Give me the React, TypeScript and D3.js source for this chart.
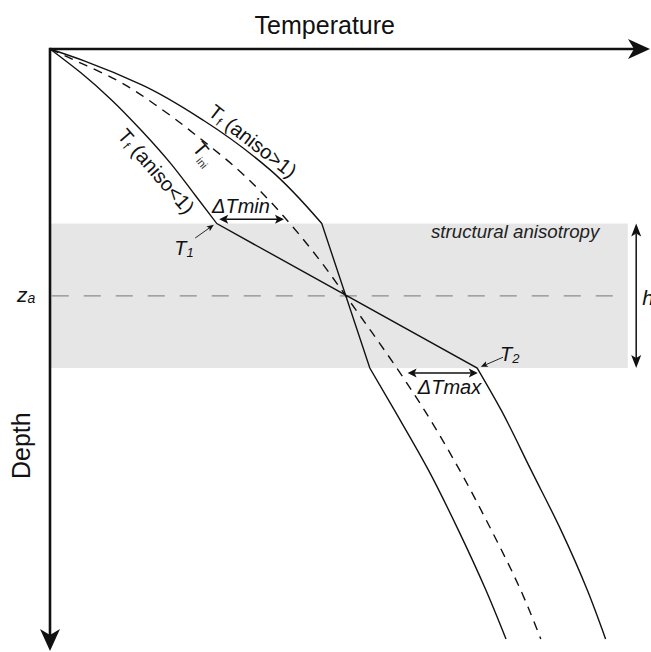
import React from 'react';
import * as d3 from 'd3';

// ---- data (temperature units, depth units) ----
const bandTop = 29;
const bandBottom = 53;
const depthZa = 41;
const bandRight = 96.3;

// initial geotherm T_ini (dashed)
const iniDepth = [0, 2, 5, 10, 15, 20, 25, 29, 35, 41, 47, 53, 60, 70, 80, 90, 98];
const iniTemp = [0, 4.4, 10.8, 18.6, 25.2, 31.3, 36.4, 40.0, 44.9, 49.3, 53.6, 57.8, 62.4, 68.3, 73.6, 78.5, 81.8];

// T_f (aniso > 1)
const hiUpperDepth = [0, 2, 6, 12, 20, 29];
const hiUpperTemp = [0, 5.8, 15.4, 25.8, 36.6, 45.3];
const hiLowerDepth = [53, 60, 70, 80, 90, 98];
const hiLowerTemp = [53.3, 57.4, 63.1, 68.1, 72.7, 76.0];

// T_f (aniso < 1)
const loUpperDepth = [0, 4, 8.5, 13.5, 19, 24.3, 29];
const loUpperTemp = [0, 5.2, 10.3, 15.2, 20.1, 24.2, 27.8];
const loLowerDepth = [53, 60, 70, 80, 90, 98];
const loLowerTemp = [71.2, 75.2, 80.2, 85.2, 89.6, 92.6];

// annotation arrows [t0, d0, t1, d1]
const dTminArrow = [28.2, 28.3, 39.0, 28.3];
const dTmaxArrow = [59.6, 53.8, 71.3, 53.8];
const t1Arrow = [24.2, 31.4, 27.3, 29.2];
const t2Arrow = [75.5, 51.2, 71.8, 52.8];
const hArrowT = 97.7;

const W = 651;
const H = 652;
const x = d3.scaleLinear().domain([0, 100]).range([50, 650]);
const y = d3.scaleLinear().domain([0, 100]).range([49, 651]);

const FONT = "'Liberation Sans', Arial, Helvetica, sans-serif";

const zip = (d: number[], t: number[]) => d.map((v, i) => [t[i], v] as [number, number]);
const lineGen = d3
  .line<[number, number]>()
  .x((p) => x(p[0]))
  .y((p) => y(p[1]))
  .curve(d3.curveMonotoneY);

function head(tx: number, ty: number, dx: number, dy: number, len: number, hw: number, notch: number) {
  const m = Math.hypot(dx, dy);
  dx /= m;
  dy /= m;
  const px = -dy, py = dx;
  const bx = tx - dx * len, by = ty - dy * len;
  const nx = tx - dx * (len - notch), ny = ty - dy * (len - notch);
  return `M${tx},${ty}L${bx + px * hw},${by + py * hw}L${nx},${ny}L${bx - px * hw},${by - py * hw}Z`;
}

function Arrow({ a, both, len, hw, notch, sw }: { a: number[]; both: boolean; len: number; hw: number; notch: number; sw: number }) {
  const x0 = x(a[0]), y0 = y(a[1]), x1 = x(a[2]), y1 = y(a[3]);
  const dx = x1 - x0, dy = y1 - y0;
  const m = Math.hypot(dx, dy);
  const ux = dx / m, uy = dy / m;
  const sx = both ? x0 + ux * (len - notch) : x0;
  const sy = both ? y0 + uy * (len - notch) : y0;
  const ex = x1 - ux * (len - notch), ey = y1 - uy * (len - notch);
  return (
    <g>
      <line x1={sx} y1={sy} x2={ex} y2={ey} stroke="#111" strokeWidth={sw} />
      <path d={head(x1, y1, dx, dy, len, hw, notch)} fill="#111" />
      {both && <path d={head(x0, y0, -dx, -dy, len, hw, notch)} fill="#111" />}
    </g>
  );
}

export default function App() {
  const iniPath = lineGen(zip(iniDepth, iniTemp)) || '';
  const hiPath =
    (lineGen(zip(hiUpperDepth, hiUpperTemp)) || '') +
    (lineGen(zip(hiLowerDepth, hiLowerTemp)) || '').replace(/^M/, 'L');
  const loPath =
    (lineGen(zip(loUpperDepth, loUpperTemp)) || '') +
    (lineGen(zip(loLowerDepth, loLowerTemp)) || '').replace(/^M/, 'L');

  const ox = x(0), oy = y(0);
  const axEndX = x(100), axEndY = y(100);

  const rot = (t: number, d: number, a: number) => `translate(${x(t)},${y(d)}) rotate(${a})`;

  return (
    <svg width={W} height={H} style={{ position: 'absolute', left: 0, top: 0, background: '#fff' }} fontFamily={FONT}>
      <rect x={0} y={0} width={W} height={H} fill="#fff" />
      {/* structural anisotropy band */}
      <rect x={x(0)} y={y(bandTop)} width={x(bandRight) - x(0)} height={y(bandBottom) - y(bandTop)} fill="#e6e6e6" />
      {/* z_a line */}
      <line x1={x(0.3)} x2={x(bandRight)} y1={y(depthZa)} y2={y(depthZa)} stroke="#8c8c8c" strokeWidth={1.3} strokeDasharray="17 15" />

      {/* curves */}
      <path d={iniPath} fill="none" stroke="#111" strokeWidth={1.4} strokeDasharray="9 7" />
      <path d={hiPath} fill="none" stroke="#111" strokeWidth={1.4} strokeLinejoin="miter" />
      <path d={loPath} fill="none" stroke="#111" strokeWidth={1.4} strokeLinejoin="miter" />

      {/* axes */}
      <line x1={ox} y1={oy} x2={axEndX - 14} y2={oy} stroke="#111" strokeWidth={2.6} />
      <path d={head(axEndX, oy, 1, 0, 22, 10, 6)} fill="#111" />
      <line x1={ox} y1={oy - 1.3} x2={ox} y2={axEndY - 14} stroke="#111" strokeWidth={2.6} />
      <path d={head(ox, axEndY, 0, 1, 22, 10, 6)} fill="#111" />

      {/* h arrow */}
      <Arrow a={[hArrowT, bandTop, hArrowT, bandBottom]} both len={13} hw={5} notch={3} sw={1.5} />
      {/* delta T arrows */}
      <Arrow a={dTminArrow} both len={9} hw={4.5} notch={2} sw={1.5} />
      <Arrow a={dTmaxArrow} both len={9} hw={4.5} notch={2} sw={1.5} />
      <Arrow a={t1Arrow} both={false} len={7} hw={3} notch={1.5} sw={0.9} />
      <Arrow a={t2Arrow} both={false} len={7} hw={3} notch={1.5} sw={0.9} />

      {/* axis titles */}
      <text x={x(45.8)} y={y(-2.5)} fontSize={25} textAnchor="middle" fill="#111">Temperature</text>
      <text transform={rot(-3.33, 65.9, -90)} fontSize={25} textAnchor="middle" fill="#111">Depth</text>

      {/* labels */}
      <text x={x(-5.5)} y={y(42.0)} fontSize={21} fontStyle="italic" fill="#111">
        z<tspan fontSize={14} dy={1}>a</tspan>
      </text>
      <text x={x(98.7)} y={y(42.5)} fontSize={21} fontStyle="italic" fill="#111">h</text>
      <text x={x(63.5)} y={y(31.4)} fontSize={18.7} fontStyle="italic" fill="#222">structural anisotropy</text>
      <text x={x(27)} y={y(27.2)} fontSize={20} fontStyle="italic" fill="#111">ΔTmin</text>
      <text x={x(61.3)} y={y(57.3)} fontSize={20} fontStyle="italic" fill="#111">ΔTmax</text>
      <text x={x(20.7)} y={y(34.2)} fontSize={20} fontStyle="italic" fill="#111">
        T<tspan fontSize={13} dy={2}>1</tspan>
      </text>
      <text x={x(75)} y={y(51.8)} fontSize={20} fontStyle="italic" fill="#111">
        T<tspan fontSize={13} dy={2}>2</tspan>
      </text>

      <g transform={rot(33.8, 15.3, 38)}>
        <text y={7} fontSize={20} textAnchor="middle" fill="#111" style={{ whiteSpace: 'pre' }}>
          T<tspan fontSize={12} dy={3}>f</tspan><tspan dy={-3}> (aniso&gt;1)</tspan>
        </text>
      </g>
      <g transform={rot(17.7, 20.3, 49)}>
        <text y={7} fontSize={20} textAnchor="middle" fill="#111" style={{ whiteSpace: 'pre' }}>
          T<tspan fontSize={12} dy={3}>f</tspan><tspan dy={-3}> (aniso&lt;1)</tspan>
        </text>
      </g>
      <g transform={rot(25.7, 17.3, 50)}>
        <text y={7} fontSize={20} textAnchor="middle" fill="#111">
          T<tspan fontSize={11} dy={5} fill="#333">ini</tspan>
        </text>
      </g>
    </svg>
  );
}
